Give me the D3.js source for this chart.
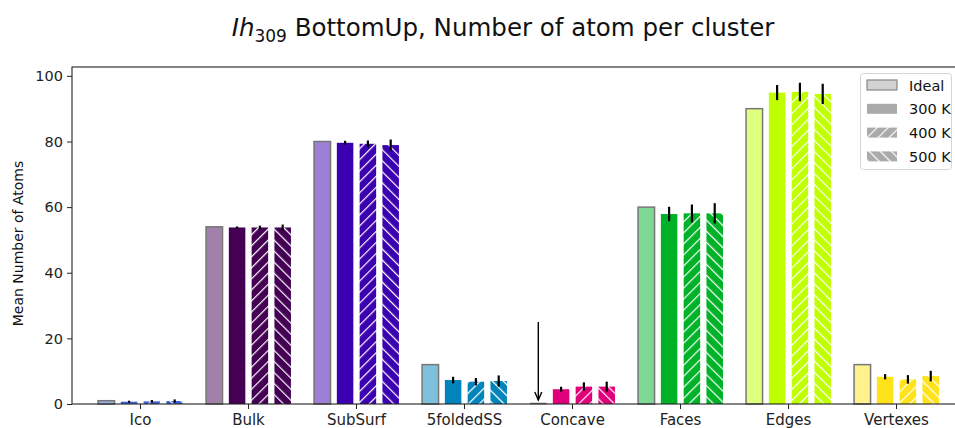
<!DOCTYPE html>
<html><head><meta charset="utf-8">
<script src="https://cdn.jsdelivr.net/npm/d3@7"></script>
<style>
body{margin:0;background:#fff;}
svg{display:block;font-family:"DejaVu Sans",sans-serif;}
</style></head>
<body><svg id="chart" width="955" height="428"></svg>
<script>
const categories = ["Ico","Bulk","SubSurf","5foldedSS","Concave","Faces","Edges","Vertexes"];
const colors = ["#3a62d6","#440154","#3b00b0","#0084bb","#e0007a","#00b227","#bfff00","#ffe31a"];
const seriesNames = ["Ideal","300 K","400 K","500 K"];
const idealValues = [1, 54, 80, 12, 0, 60, 90, 12];
const values300 = [0.7, 53.8, 79.6, 7.3, 4.5, 57.9, 94.9, 8.3];
const values400 = [0.8, 53.8, 79.3, 6.8, 5.3, 58.1, 95.1, 7.5];
const values500 = [0.9, 53.8, 78.9, 7.0, 5.3, 58.1, 94.5, 8.5];
const err300 = [0.3, 0.3, 0.6, 1.0, 0.75, 2.2, 2.3, 0.8];
const err400 = [0.4, 0.55, 1.0, 1.1, 1.3, 2.7, 2.8, 1.3];
const err500 = [0.5, 0.9, 1.7, 1.7, 1.5, 3.1, 3.1, 1.6];
const yTicks = [0, 20, 40, 60, 80, 100];
const arrowFrom = 25;

const svg = d3.select("#chart");
const M = {left:72, top:67, bottom:404, right:965};

const x0 = d3.scaleBand().domain(categories).range([M.left, M.right]).paddingInner(0).paddingOuter(0.134);
const bw = x0.bandwidth();
const x1 = d3.scaleBand().domain(seriesNames).range([-0.4222*bw, 0.4222*bw]).paddingInner(0.276).paddingOuter(0.138);
const y = d3.scaleLinear().domain([0, 102.7]).range([M.bottom, M.top]);

const defs = svg.append("defs");
function makePattern(id, color, angle){
  const p = defs.append("pattern").attr("id", id).attr("patternUnits","userSpaceOnUse")
    .attr("width", 7.8).attr("height", 7.8).attr("patternTransform", `rotate(${angle})`);
  p.append("rect").attr("width", 7.8).attr("height", 7.8).attr("fill", color);
  p.append("line").attr("x1", 0).attr("y1", -1).attr("x2", 0).attr("y2", 9).attr("stroke","#fff").attr("stroke-width", 2.4);
}
colors.forEach((c,i)=>{ makePattern("h400_"+i, c, 45); makePattern("h500_"+i, c, -45); });
makePattern("h400_leg", "#aaaaaa", 45); makePattern("h500_leg", "#aaaaaa", -45);

const allVals = [idealValues, values300, values400, values500];
const allErr = [null, err300, err400, err500];
const bars = [];
categories.forEach((cat, i) => {
  seriesNames.forEach((s, j) => {
    bars.push({cat, i, s, j, v: allVals[j][i], e: allErr[j] ? allErr[j][i] : null});
  });
});
const g = svg.append("g");
g.selectAll("rect.bar").data(bars).enter().append("rect").attr("class","bar")
  .attr("x", d => x0(d.cat) + bw/2 + x1(d.s))
  .attr("width", x1.bandwidth())
  .attr("y", d => y(d.v))
  .attr("height", d => Math.max(0, y(0) - y(d.v)))
  .attr("fill", d => d.j <= 1 ? colors[d.i] : d.j === 2 ? `url(#h400_${d.i})` : `url(#h500_${d.i})`)
  .attr("fill-opacity", d => d.j === 0 ? 0.5 : 1)
  .attr("stroke", d => d.j === 0 ? "#777" : "none")
  .attr("stroke-width", 1.5);

g.selectAll("line.zero").data(bars.filter(d => d.j===0 && d.v===0)).enter().append("line")
  .attr("x1", d => x0(d.cat) + bw/2 + x1(d.s)).attr("x2", d => x0(d.cat) + bw/2 + x1(d.s) + x1.bandwidth())
  .attr("y1", y(0)-0.5).attr("y2", y(0)-0.5).attr("stroke","#777").attr("stroke-width",1.5);

g.selectAll("line.err").data(bars.filter(d => d.e !== null)).enter().append("line")
  .attr("x1", d => x0(d.cat) + bw/2 + x1(d.s) + x1.bandwidth()/2)
  .attr("x2", d => x0(d.cat) + bw/2 + x1(d.s) + x1.bandwidth()/2)
  .attr("y1", d => y(d.v - d.e)).attr("y2", d => y(d.v + d.e))
  .attr("stroke", "#000").attr("stroke-width", 2.2);

const ax = x0("Concave") + bw/2 + x1("Ideal") + x1.bandwidth()/2;
g.append("line").attr("x1", ax).attr("x2", ax).attr("y1", y(arrowFrom)).attr("y2", y(0)-4)
  .attr("stroke","#000").attr("stroke-width",1.4);
g.append("path").attr("d", `M${ax-3.5},${y(0)-12} L${ax},${y(0)-4} L${ax+3.5},${y(0)-12}`)
  .attr("fill","none").attr("stroke","#000").attr("stroke-width",1.4);

const yAxis = svg.append("g").attr("transform", `translate(${M.left},0)`)
  .call(d3.axisLeft(y).tickValues(yTicks).tickSize(5).tickPadding(4));
yAxis.select(".domain").remove();
yAxis.selectAll("text").attr("font-size", 14.5).attr("fill","#222").attr("font-family","DejaVu Sans");
yAxis.selectAll("line").attr("stroke","#222");
const xAxis = svg.append("g").attr("transform", `translate(0,${M.bottom})`)
  .call(d3.axisBottom(x0).tickSize(5).tickPadding(5));
xAxis.select(".domain").remove();
xAxis.selectAll("text").attr("font-size", 15).attr("fill","#222").attr("font-family","DejaVu Sans");
xAxis.selectAll("line").attr("stroke","#222");

svg.append("rect").attr("x", M.left).attr("y", M.top).attr("width", M.right - M.left).attr("height", M.bottom - M.top)
  .attr("fill","none").attr("stroke","#222").attr("stroke-width",1.1);

const t = svg.append("text").attr("x", 503).attr("y", 36).attr("text-anchor","middle")
  .attr("font-size", 24.5).attr("fill","#111");
t.append("tspan").attr("font-style","italic").text("Ih");
t.append("tspan").attr("font-size", 17).attr("dy", 6).text("309");
t.append("tspan").attr("dy", -6).text(" BottomUp, Number of atom per cluster");

svg.append("text").attr("transform", `translate(23,${(M.top+M.bottom)/2+8}) rotate(-90)`)
  .attr("text-anchor","middle").attr("font-size",14).attr("fill","#111").text("Mean Number of Atoms");

const lg = svg.append("g");
lg.append("rect").attr("x", 860.5).attr("y", 73.5).attr("width", 91).attr("height", 96).attr("rx", 3)
  .attr("fill","#fff").attr("fill-opacity",0.8).attr("stroke","#d5d5d5");
const legFills = ["#d3d3d3", "#aaaaaa", "url(#h400_leg)", "url(#h500_leg)"];
seriesNames.forEach((s, j) => {
  const cy = 85 + j*23.8;
  lg.append("rect").attr("x", 867).attr("y", cy-5).attr("width", 30).attr("height", 10)
    .attr("fill", legFills[j]).attr("stroke", j===0 ? "#888" : "none").attr("stroke-width", 1.2);
  lg.append("text").attr("x", 909).attr("y", cy+5.5).attr("font-size", 14.5).attr("fill","#111").text(s);
});
</script></body></html>
